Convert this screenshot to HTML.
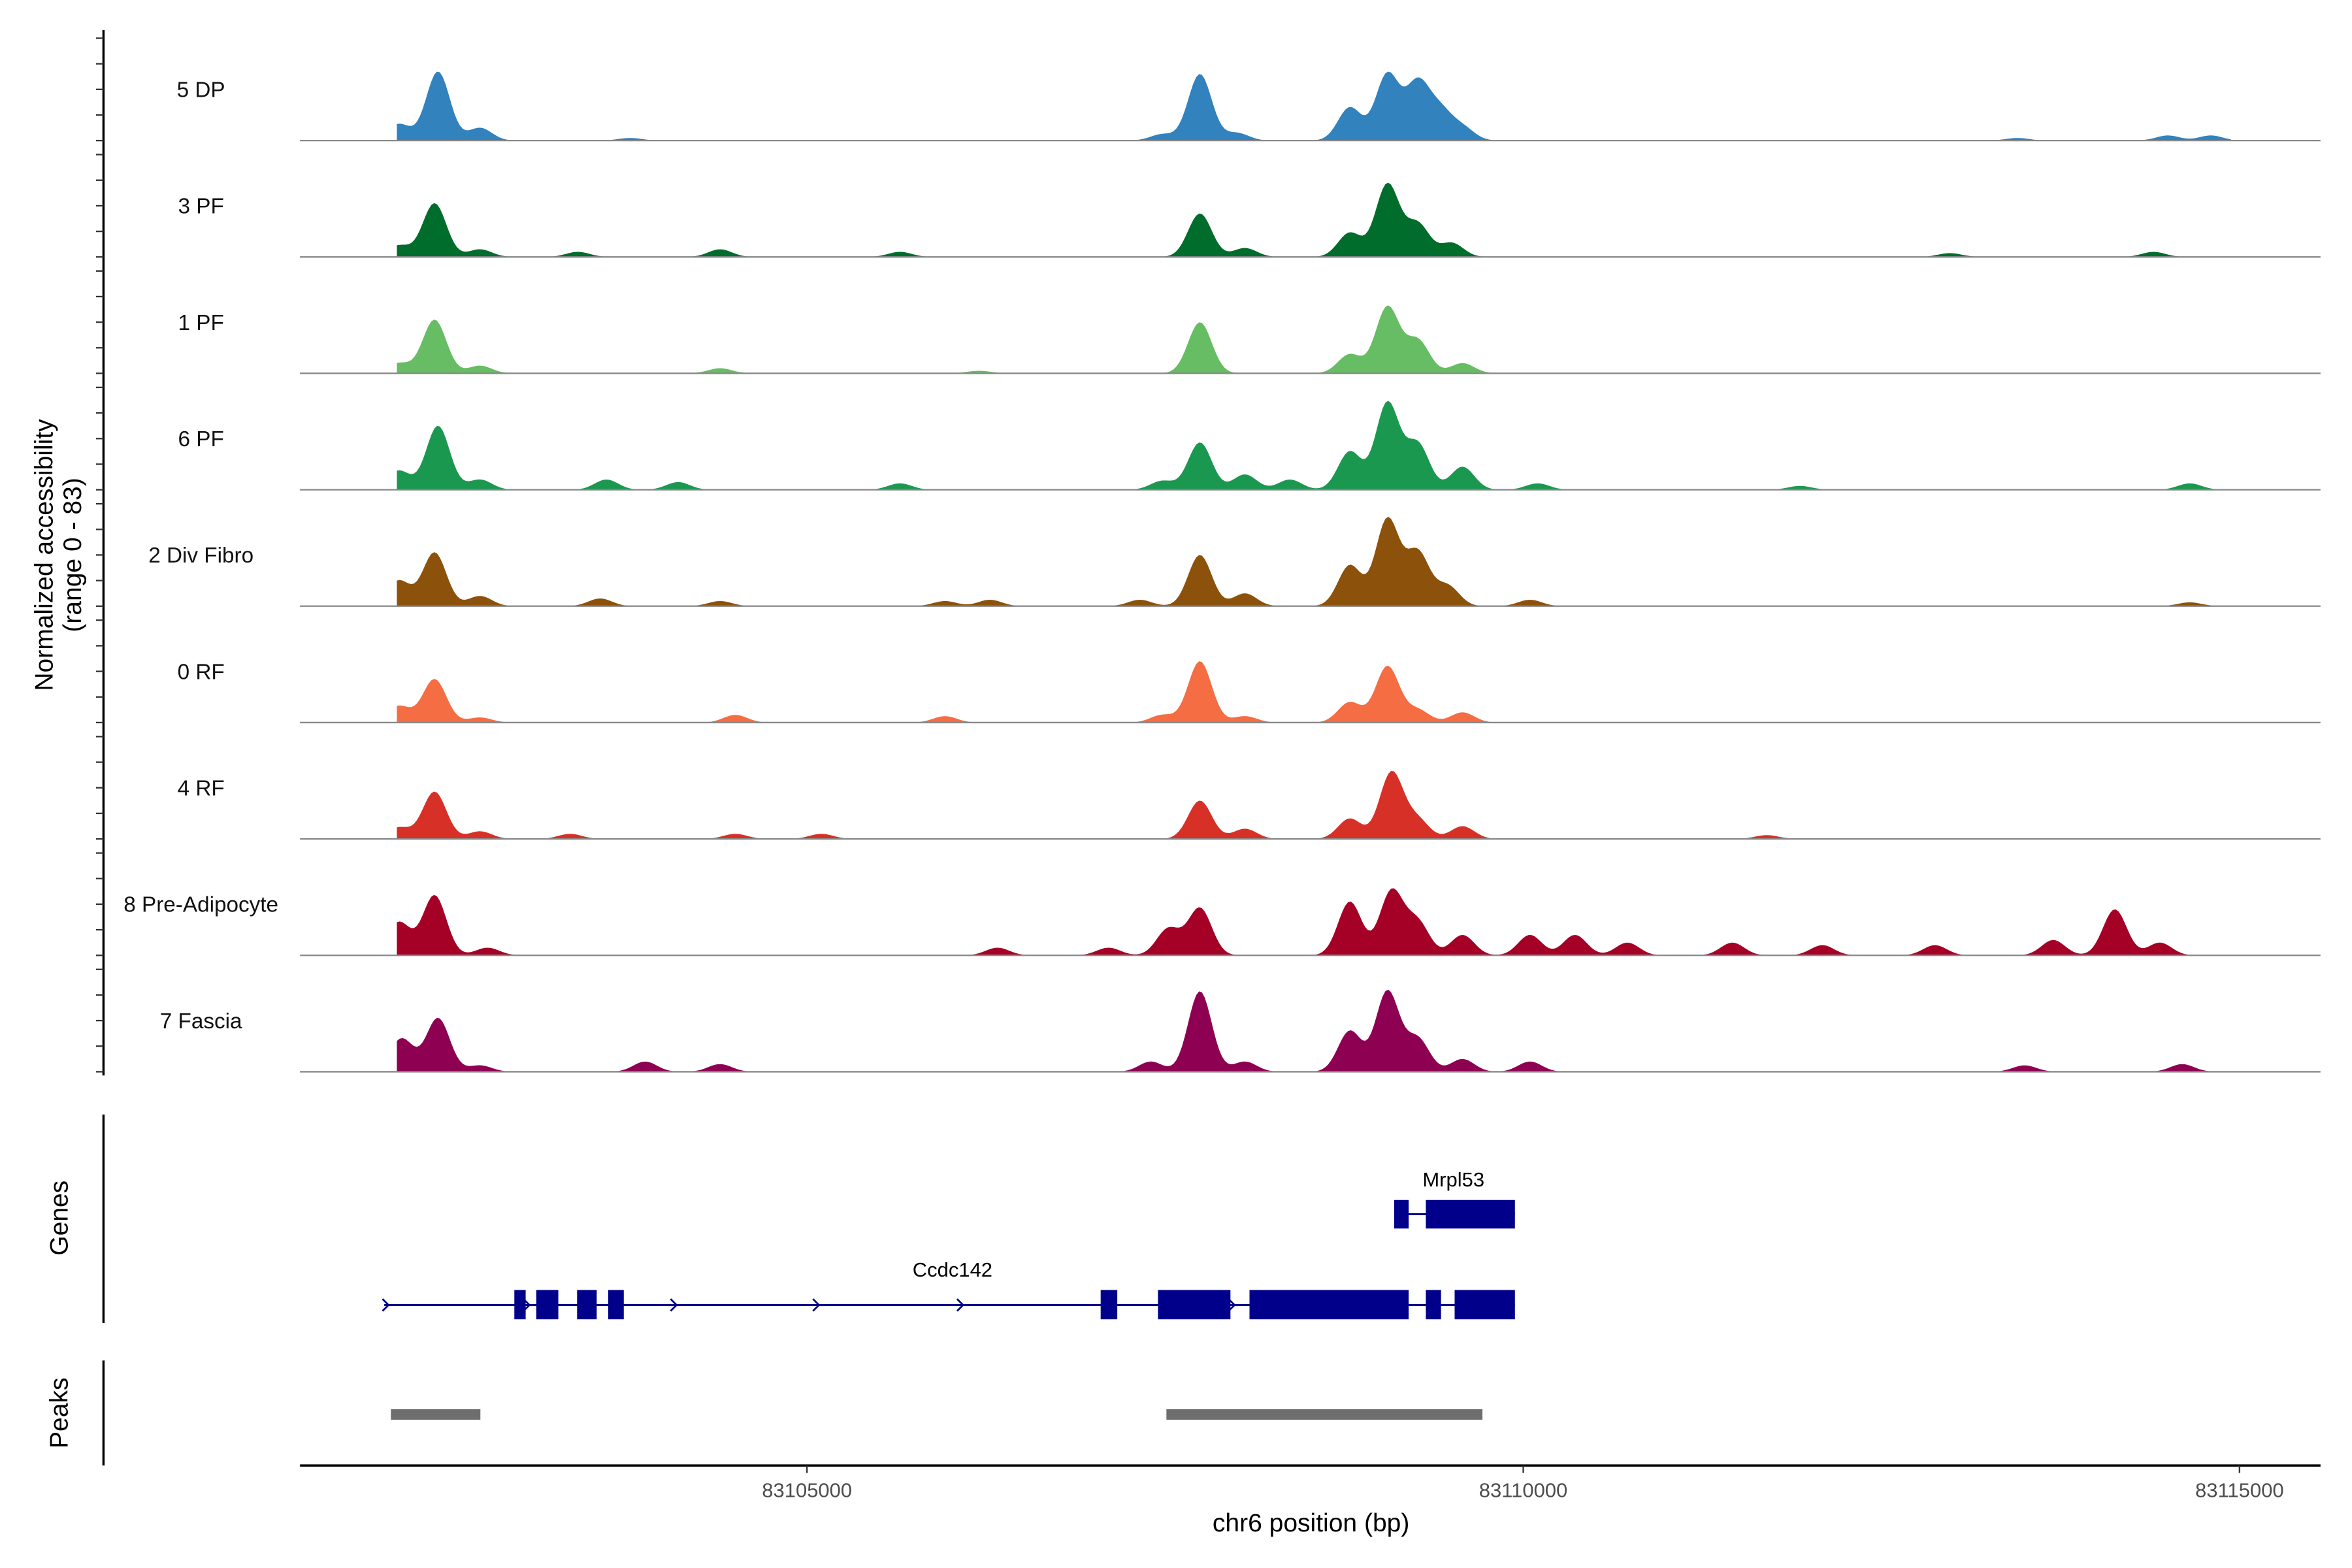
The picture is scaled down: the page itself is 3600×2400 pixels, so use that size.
<!DOCTYPE html>
<html><head><meta charset="utf-8">
<style>html,body{margin:0;padding:0;background:#fff}svg{display:block}text{font-family:"Liberation Sans",sans-serif}</style>
</head><body>
<svg id="chart" xmlns="http://www.w3.org/2000/svg" width="3600" height="2400" viewBox="0 0 1568 1045.33">
<rect width="1568" height="1046" fill="#fff"/>
<g id="tracks"></g>
<g id="yaxis"></g>
<text transform="translate(35,370) rotate(-90)" text-anchor="middle" font-size="17">Normalized accessibility</text>
<text transform="translate(54,370) rotate(-90)" text-anchor="middle" font-size="17">(range 0 - 83)</text>
<line x1="69" y1="743" x2="69" y2="882" stroke="#000" stroke-width="1.5"/>
<text transform="translate(45,812) rotate(-90)" text-anchor="middle" font-size="17">Genes</text>
<line x1="69" y1="907" x2="69" y2="977" stroke="#000" stroke-width="1.5"/>
<text transform="translate(45,942) rotate(-90)" text-anchor="middle" font-size="17">Peaks</text>
<g id="genes"></g>
<g id="peaks"></g>
<line x1="200" y1="977" x2="1547" y2="977" stroke="#000" stroke-width="1.5"/>
<g id="xaxis"></g>
<text x="874" y="1021" text-anchor="middle" font-size="17">chr6 position (bp)</text>
</svg>
<script>
const trackNames=["5 DP","3 PF","1 PF","6 PF","2 Div Fibro","0 RF","4 RF","8 Pre-Adipocyte","7 Fascia"];
const trackColors=["#3182bd","#006d2c","#66bd63","#1b9850","#8c510a","#f46d43","#d73027","#a50026","#8e0152"];
const dpPos=[83102150,83102424,83102717,83103765,83107481,83107743,83108000,83108790,83109052,83109262,83109420,83109576,83113450,83114500,83114800];
const dpVal=[13,54,10,2,5,52,6,26,52,44,22,10,2,4,4];
const pf3Pos=[83102150,83102400,83102717,83103400,83104393,83105649,83107743,83108057,83108790,83109052,83109262,83109500,83112978,83114400];
const pf3Val=[9,42,6,4,6,4,34,7,19,57,26,11,3,4];
const pf1Pos=[83102150,83102400,83102717,83104393,83106200,83107743,83108790,83109052,83109262,83109576];
const pf1Val=[8,42,6,4,2,40,15,52,26,8];
const pf6Pos=[83102150,83102424,83102717,83103600,83104100,83105649,83107481,83107743,83108057,83108371,83108790,83109052,83109262,83109576,83110100,83111931,83114653];
const pf6Val=[15,50,8,8,6,5,7,37,12,8,30,68,36,18,5,3,5];
const dfPos=[83102150,83102400,83102717,83103556,83104393,83105963,83106277,83107324,83107743,83108057,83108790,83109052,83109262,83109470,83110047,83114653];
const dfVal=[20,42,8,6,4,4,5,5,40,10,32,68,42,16,5,3];
const rf0Pos=[83102150,83102400,83102717,83104500,83105963,83107481,83107743,83108057,83108790,83109052,83109262,83109576];
const rf0Val=[13,34,4,6,5,6,48,5,16,44,10,8];
const rf4Pos=[83102150,83102400,83102717,83103346,83104500,83105100,83107743,83108057,83108790,83109080,83109262,83109576,83111700];
const rf4Val=[9,37,6,4,4,4,30,8,16,52,15,10,3];
const paPos=[83102150,83102400,83102770,83106330,83107105,83107524,83107743,83108790,83109080,83109262,83109576,83110047,83110361,83110727,83111460,83112088,83112874,83113700,83114130,83114444];
const paVal=[26,47,6,6,6,21,37,42,50,26,16,16,16,10,10,8,8,12,36,10];
const faPos=[83102170,83102424,83102717,83103870,83104393,83107400,83107743,83108057,83108790,83109052,83109262,83109576,83110047,83113500,83114600];
const faVal=[26,42,5,8,6,8,63,8,32,63,26,10,8,5,6];
const trackPos=[dpPos,pf3Pos,pf1Pos,pf6Pos,dfPos,rf0Pos,rf4Pos,paPos,faPos];
const trackVal=[dpVal,pf3Val,pf1Val,pf6Val,dfVal,rf0Val,rf4Val,paVal,faVal];
const xTicks=[83105000,83110000,83115000];
const geneExonStarts=[83102957,83103110,83103395,83103612,83107050,83107450,83108089,83109320,83109521];
const geneExonEnds=[83103036,83103264,83103532,83103721,83107166,83107956,83109200,83109426,83109942];
const geneArrows=[83102068,83103052,83104079,83105073,83106079,83107974];
const mrplExonStarts=[83109099,83109320];
const mrplExonEnds=[83109200,83109942];
const peakStarts2=[83102095,83107509];
const peakEnds2=[83102720,83109715];

const NS="http://www.w3.org/2000/svg";
const X0=83105000,PX0=538,PPK=95.5;
function xs(bp){return PX0+(bp-X0)/1000*PPK;}
const BASE0=93.7,STEP=77.6,VS=70.8/83;
function ys(i,v){return BASE0+i*STEP-v*VS;}
function mk(tag,attrs,parent){const e=document.createElementNS(NS,tag);for(const k in attrs)e.setAttribute(k,attrs[k]);parent.appendChild(e);return e;}

const tg=document.getElementById('tracks');
const startBp=83102137,endBp=83114950,SD=82;
trackNames.forEach((name,i)=>{
  const base=ys(i,0);
  const g=mk('g',{},tg);
  
  
  const pos=trackPos[i],val=trackVal[i];
  let d='M'+xs(startBp)+','+base;
  for(let b=startBp;b<=endBp;b+=20){
    let v=0;
    for(let k=0;k<pos.length;k++){const z=(b-pos[k])/SD;v+=val[k]*Math.exp(-0.5*z*z);}
    v=Math.min(v,83);
    d+='L'+xs(b).toFixed(2)+','+ys(i,v).toFixed(2);
  }
  d+='L'+xs(endBp)+','+base+'Z';
  const p=mk('path',{d:d,fill:trackColors[i]},g);
  
  
  const l=mk('line',{x1:200,x2:1547,y1:base,y2:base,stroke:'#888','stroke-width':1},g);
  
  
  const t=mk('text',{x:134,y:base-29,'text-anchor':'middle','font-size':14.5,fill:'#111'},g);
  t.textContent=name;
  
  
});

const ya=document.getElementById('yaxis');
const al=mk('line',{x1:69,x2:69,y1:20,y2:717,stroke:'#000','stroke-width':1.5},ya);


const tickVals=[0,20,40,60,80];
trackNames.forEach((n,i)=>{tickVals.forEach(v=>{
  const y=ys(i,v);
  const t=mk('line',{x1:64,x2:69,y1:y,y2:y,stroke:'#333','stroke-width':1},ya);
  
  
});});

const gg=document.getElementById('genes');
const c='#00008b';
let l1=mk('line',{x1:xs(83102049),x2:xs(83109942),y1:870,y2:870,stroke:c,'stroke-width':1.3},gg);


geneExonStarts.forEach((s,k)=>{
  const r=mk('rect',{x:xs(s),y:860,width:xs(geneExonEnds[k])-xs(s),height:19.5,fill:c},gg);
  
  
});
geneArrows.forEach(a=>{
  const x=xs(a);
  const p=mk('path',{d:`M${x-3},${866}L${x+1},${870}L${x-3},${874}`,stroke:c,fill:'none','stroke-width':1.2},gg);
  
  
});
let t1=mk('text',{x:635,y:851,'text-anchor':'middle','font-size':13.5},gg);t1.textContent='Ccdc142';


let l2=mk('line',{x1:xs(83109099),x2:xs(83109942),y1:809.5,y2:809.5,stroke:c,'stroke-width':1.3},gg);


mrplExonStarts.forEach((s,k)=>{
  const r=mk('rect',{x:xs(s),y:800,width:xs(mrplExonEnds[k])-xs(s),height:19,fill:c},gg);
  
  
});
let t2=mk('text',{x:969,y:791,'text-anchor':'middle','font-size':13.5},gg);t2.textContent='Mrpl53';



const pg=document.getElementById('peaks');
peakStarts2.forEach((s,k)=>{
  const r=mk('rect',{x:xs(s),y:939.5,width:xs(peakEnds2[k])-xs(s),height:7,fill:'#6e6e6e'},pg);
  
  
});

const xg=document.getElementById('xaxis');
xTicks.forEach(v=>{
  const x=xs(v);
  const t=mk('line',{x1:x,x2:x,y1:977,y2:982,stroke:'#333'},xg);
  
  
  const tx=mk('text',{x:x,y:998,'text-anchor':'middle','font-size':13.5,fill:'#4d4d4d'},xg);
  tx.textContent=String(v);
  
  
});
</script>
</body></html>
